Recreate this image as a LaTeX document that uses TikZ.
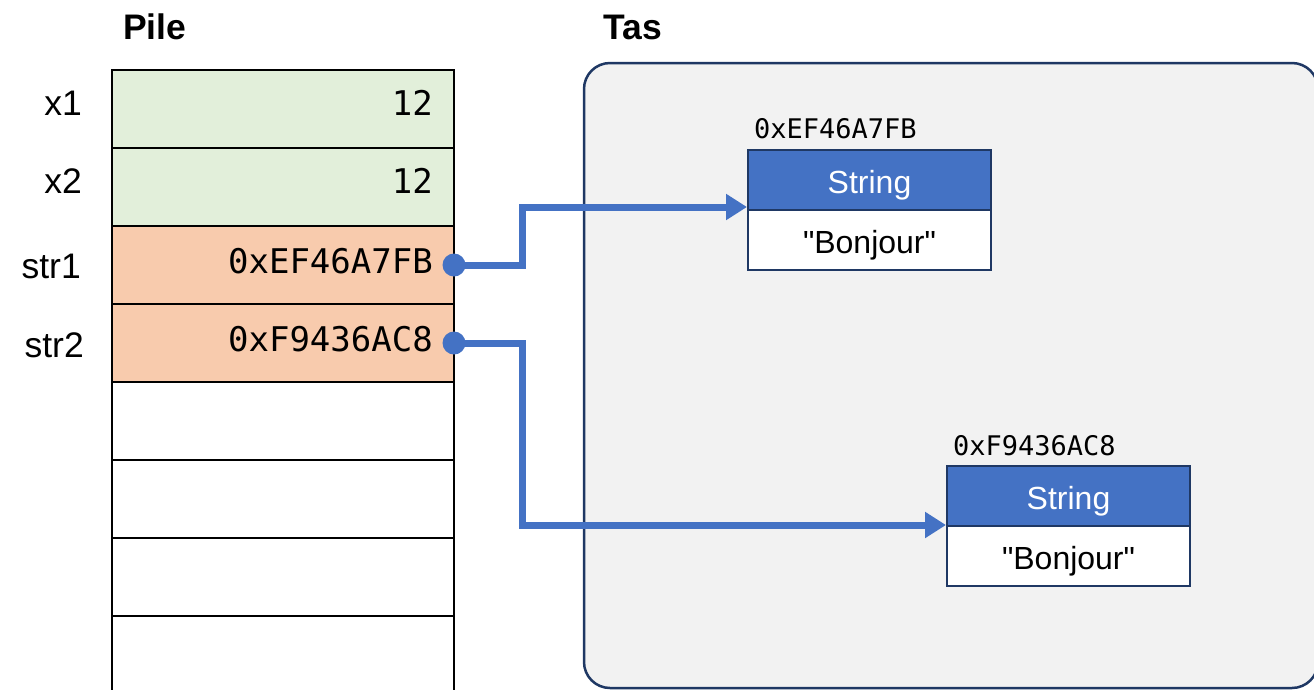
\documentclass[tikz,border=0pt]{standalone}
\usepackage{fontspec}
\setmainfont{Liberation Sans}
\newfontfamily\plainfont{Liberation Sans}[Ligatures=TeXOff]
\newfontfamily\monofont{DejaVu Sans Mono}
\usetikzlibrary{arrows.meta}
\definecolor{cgreen}{HTML}{E2EFDA}
\definecolor{corange}{HTML}{F8CBAD}
\definecolor{cblue}{HTML}{4472C4}
\definecolor{cnavy}{HTML}{1F3864}
\definecolor{cheap}{HTML}{F2F2F2}
\tikzset{
  cell/.style={draw=black, line width=2pt, minimum width=342pt, minimum height=78pt, inner sep=0pt},
  val/.style={anchor=east, inner sep=0pt, font=\monofont\fontsize{34}{40}\selectfont},
  lbl/.style={anchor=east, inner sep=0pt, font=\fontsize{35.5}{42}\selectfont},
  title/.style={anchor=west, inner sep=0pt, font=\bfseries\fontsize{35.5}{42}\selectfont},
  hdr/.style={draw=cnavy, line width=2pt, fill=cblue, text=white, minimum width=243pt, minimum height=60pt, inner sep=0pt, text height=27pt, text depth=0pt, font=\plainfont\fontsize{32}{38}\selectfont},
  body/.style={draw=cnavy, line width=2pt, fill=white, minimum width=243pt, minimum height=60pt, inner sep=0pt, text height=27pt, text depth=0pt, font=\plainfont\fontsize{32}{38}\selectfont},
  addr/.style={anchor=base west, inner sep=0pt, font=\monofont\fontsize{27}{32}\selectfont},
  conn/.style={draw=cblue, line width=7pt, -{Triangle[length=21pt,width=25pt]}},
}
\begin{document}
\begin{tikzpicture}[x=1pt,y=-1pt]
\useasboundingbox (0,0) rectangle (1314,689);
\clip (0,0) rectangle (1314,689);
% heap area
\draw[cnavy, fill=cheap, line width=2.5pt, rounded corners=26pt] (584,63) rectangle (1318,688);
% titles
\node[title] (tpile) at (123,27) {Pile};
\node[title] (ttas) at (603,27) {Tas};
% stack cells
\node[cell, fill=cgreen] (c1) at (283,109) {};
\node[cell, fill=cgreen] (c2) at (283,187) {};
\node[cell, fill=corange] (c3) at (283,265) {};
\node[cell, fill=corange] (c4) at (283,343) {};
\node[cell, fill=white] (c5) at (283,421) {};
\node[cell, fill=white] (c6) at (283,499) {};
\node[cell, fill=white] (c7) at (283,577) {};
\node[cell, fill=white] (c8) at (283,655) {};
\node[cell, fill=white] (c9) at (283,733) {};
% labels
\node[lbl] (l1) at (82,103) {x1};
\node[lbl] (l2) at (82,181) {x2};
\node[lbl] (l3) at (81,266) {str1};
\node[lbl] (l4) at (84,345) {str2};
% values
\node[val] (v1) at (433,103) {12};
\node[val] (v2) at (433,181) {12};
\node[val] (v3) at (433,261) {0xEF46A7FB};
\node[val] (v4) at (433,339) {0xF9436AC8};
% heap objects
\node[hdr] (h1) at (869.5,180) {String};
\node[body] (b1) at (869.5,240) {"Bonjour"};
\node[addr] (a1) at (754,138) {0xEF46A7FB};
\node[hdr] (h2) at (1068.5,496) {String};
\node[body] (b2) at (1068.5,556) {"Bonjour"};
\node[addr] (a2) at (953,455) {0xF9436AC8};
% connectors
\coordinate (d1) at ([xshift=-1pt]c3.east);
\coordinate (d2) at ([xshift=-1pt]c4.east);
\draw[conn] (d1) -- ++(68,0) |- ([yshift=4pt]h1.south west);
\draw[conn] (d2) -- ++(68,0) |- ([yshift=2pt]h2.south west);
\fill[cblue] (d1) circle (11.5pt);
\fill[cblue] (d2) circle (11.5pt);
\end{tikzpicture}
\end{document}
